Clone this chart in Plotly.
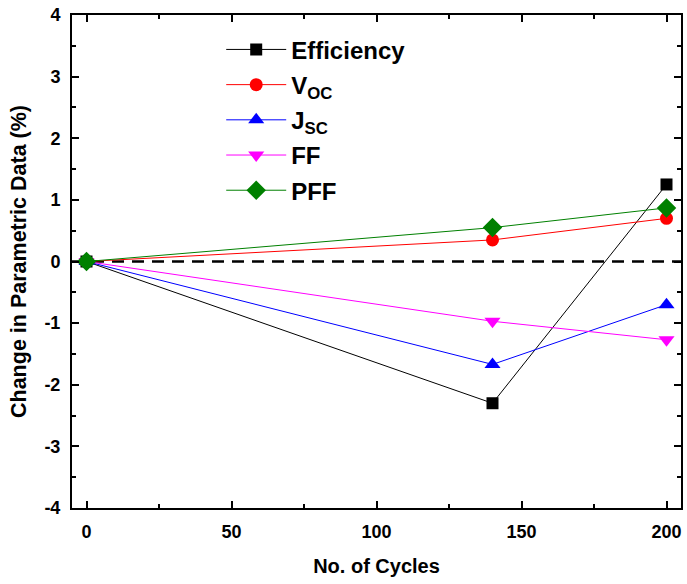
import plotly.graph_objects as go

cycles = [0, 140, 200]
efficiency = [0, -2.30, 1.25]
voc = [0, 0.35, 0.70]
jsc = [0, -1.67, -0.70]
ff = [0, -0.97, -1.27]
pff = [0, 0.55, 0.87]

x_ticks = [0, 50, 100, 150, 200]
y_ticks = [-4, -3, -2, -1, 0, 1, 2, 3, 4]

series = [
    ("Efficiency", efficiency, "black", "square", 12),
    ("V<sub>OC</sub>", voc, "red", "circle", 13),
    ("J<sub>SC</sub>", jsc, "blue", "triangle-up", 14),
    ("FF", ff, "magenta", "triangle-down", 14),
    ("PFF", pff, "green", "diamond", 15),
]

fig = go.Figure()
for i, (name, vals, col, sym, sz) in enumerate(series):
    fig.add_trace(go.Scatter(
        x=cycles, y=vals, name="<b>" + name + "</b>", mode="lines+markers",
        legendgroup=str(i),
        line=dict(color=col, width=1),
        marker=dict(symbol=sym, size=sz, color=col),
    ))

fig.add_shape(type="line", xref="paper", yref="y", x0=0, x1=1, y0=0, y1=0,
              line=dict(color="black", width=2.5, dash="12px,8px"), layer="below")

tickfont = dict(family="Liberation Sans", size=18, color="black", weight="bold")
axis_common = dict(
    showline=True, linecolor="black", linewidth=2, mirror="allticks",
    ticks="inside", ticklen=7, tickwidth=2, tickcolor="black",
    showgrid=False, zeroline=False, tickfont=tickfont,
)
minor_common = dict(ticks="inside", ticklen=4, tickwidth=2, tickcolor="black", showgrid=False)

fig.update_layout(
    width=687, height=584,
    margin=dict(l=72, r=4, t=15, b=76),
    plot_bgcolor="white", paper_bgcolor="white",
    font=dict(family="Liberation Sans", color="black"),
    xaxis=dict(
        range=[-5, 205], tickvals=x_ticks, ticktext=[str(v) for v in x_ticks],
        minor=dict(dtick=25, **minor_common),
        ticklabelstandoff=6,
        title=dict(text="No. of Cycles", font=dict(size=20, weight="bold"), standoff=18),
        **axis_common,
    ),
    yaxis=dict(
        range=[-4, 4], tickvals=y_ticks, ticktext=[str(v) for v in y_ticks],
        minor=dict(dtick=0.5, **minor_common),
        ticklabelstandoff=6,
        title=dict(text="Change in Parametric Data (%)", font=dict(size=21.5, weight="bold"), standoff=12),
        **axis_common,
    ),
    legend=dict(
        x=0.245, y=0.975, xanchor="left", yanchor="top",
        bgcolor="rgba(0,0,0,0)",
        font=dict(family="Liberation Sans", size=24, color="black"),
        itemwidth=60, tracegroupgap=1,
    ),
)

fig.write_html("out.html")
